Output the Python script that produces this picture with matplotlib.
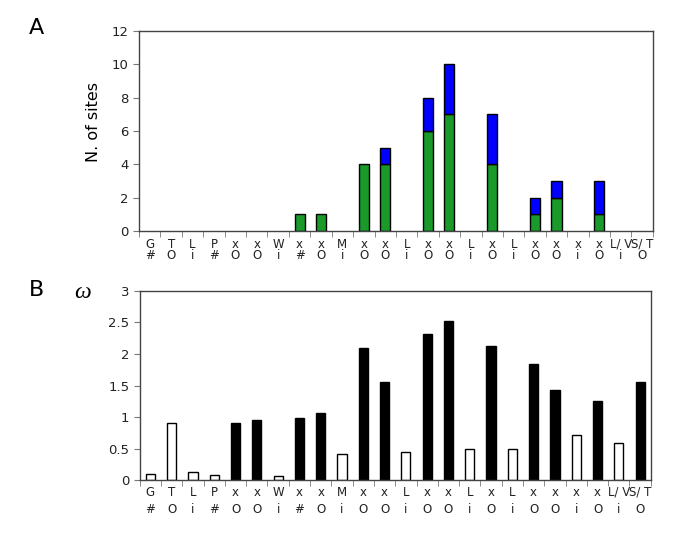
import matplotlib
matplotlib.use("Agg")
import matplotlib.pyplot as plt
import numpy as np

# category labels (two lines each)
top_labels = ["G", "T", "L", "P", "x", "x", "W", "x", "x", "M", "x", "x",
              "L", "x", "x", "L", "x", "L", "x", "x", "x", "x", "L/ V", "S/ T"]
bottom_labels = ["#", "O", "i", "#", "O", "O", "i", "#", "O", "i", "O", "O",
                 "i", "O", "O", "i", "O", "i", "O", "O", "i", "O", "i", "O"]

# panel A: number of sites
green_sites = [0, 0, 0, 0, 0, 0, 0, 1, 1, 0, 4, 4, 0, 6, 7, 0, 4, 0, 1, 2, 0, 1, 0, 0]
blue_sites = [0, 0, 0, 0, 0, 0, 0, 0, 0, 0, 0, 1, 0, 2, 3, 0, 3, 0, 1, 1, 0, 2, 0, 0]

# panel B: omega
omega = [0.10, 0.90, 0.12, 0.08, 0.91, 0.95, 0.07, 0.98, 1.06, 0.42, 2.10, 1.56,
         0.44, 2.31, 2.52, 0.50, 2.13, 0.50, 1.84, 1.43, 0.72, 1.26, 0.58, 1.56]
omega_filled = [False, False, False, False, True, True, False, True, True, False, True, True,
                False, True, True, False, True, False, True, True, False, True, False, True]

labels = [f"{t}\n{b}" for t, b in zip(top_labels, bottom_labels)]
x = np.arange(len(labels))
green = np.array(green_sites)
blue = np.array(blue_sites)

fig = plt.figure(figsize=(6.85, 5.48), dpi=100)
axA = fig.add_axes([0.203, 0.5785, 0.750, 0.365])
axB = fig.add_axes([0.204, 0.124, 0.746, 0.345])


def style_axis(ax, spacing, pad):
    ax.set_xlim(-0.5, len(labels) - 0.5)
    ax.set_xticks(x)
    ax.set_xticklabels(labels, fontsize=8.5, linespacing=spacing, color="#222222")
    ax.set_xticks(np.arange(-0.5, len(labels), 1.0), minor=True)
    ax.tick_params(axis="x", which="major", length=0, pad=pad)
    ax.tick_params(axis="x", which="minor", length=4, color="#777777")
    ax.tick_params(axis="y", length=4, color="#777777", labelsize=9.5, labelcolor="#222222")
    for s in ax.spines.values():
        s.set_color("#444444")
        s.set_linewidth(1.0)


# Panel A (only non-empty bars are drawn)
g = green > 0
axA.bar(x[g], green[g], width=0.47, color="#1a9a2a", edgecolor="black", linewidth=1.0)
b = blue > 0
axA.bar(x[b], blue[b], width=0.47, bottom=green[b], color="#0000ff",
        edgecolor="black", linewidth=1.0)
axA.set_ylim(0, 12)
axA.set_yticks(range(0, 13, 2))
style_axis(axA, 0.85, 5)
axA.set_ylabel("N. of sites", fontsize=11.5)
axA.yaxis.set_label_coords(-0.074, 0.545)

# Panel B
face = ["black" if f else "white" for f in omega_filled]
axB.bar(x, omega, width=0.43, color=face, edgecolor="black", linewidth=1.0)
axB.set_ylim(0, 3)
axB.set_yticks([0, 0.5, 1, 1.5, 2, 2.5, 3])
axB.set_yticklabels(["0", "0.5", "1", "1.5", "2", "2.5", "3"])
style_axis(axB, 1.4, 4)

fig.text(0.053, 0.949, "A", fontsize=16, va="center", ha="center")
fig.text(0.053, 0.471, "B", fontsize=16, va="center", ha="center")
fig.text(0.121, 0.467, "ω", fontsize=17, va="center", ha="center",
         family="Liberation Serif", style="italic")

fig.savefig("out.png", dpi=100)
